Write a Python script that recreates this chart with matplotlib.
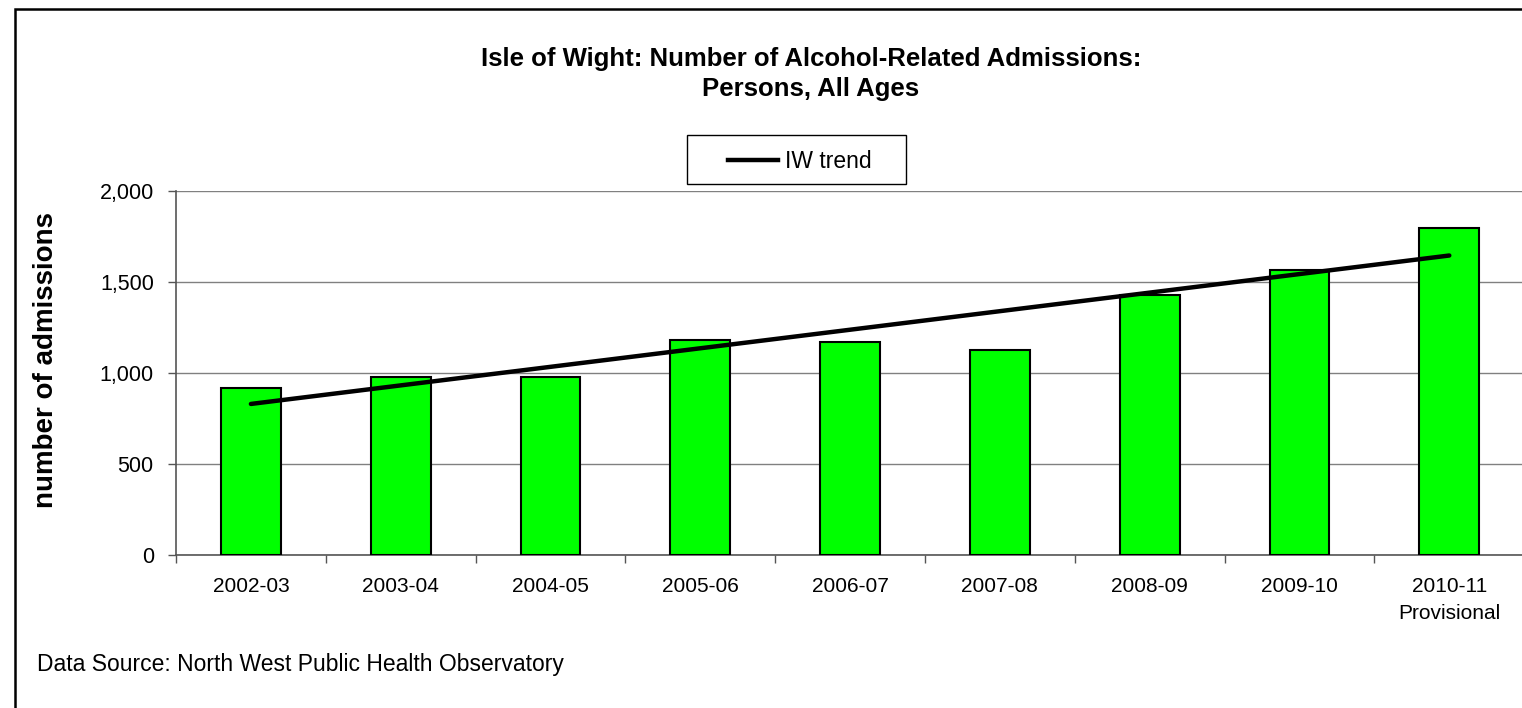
import numpy as np
import matplotlib
matplotlib.use("Agg")
import matplotlib.pyplot as plt
from matplotlib.lines import Line2D
from matplotlib.patches import Rectangle

plt.rcParams['font.family'] = ['Liberation Sans', 'DejaVu Sans']

categories = ["2002-03", "2003-04", "2004-05", "2005-06", "2006-07",
              "2007-08", "2008-09", "2009-10", "2010-11\nProvisional"]
admissions = [917, 980, 977, 1181, 1170, 1126, 1428, 1566, 1795]
y_ticks = [0, 500, 1000, 1500, 2000]

W, H = 1522, 708
fig = plt.figure(figsize=(W / 100, H / 100), dpi=100)


def fx(px):
    return px / W


def fy(py):
    return 1 - py / H


# outer chart border (right/bottom edges fall outside the canvas)
fig.patches.append(Rectangle((fx(15.5), -0.1), 1.2, fy(8.5) + 0.1,
                             transform=fig.transFigure, fill=False,
                             edgecolor='black', linewidth=1.8, zorder=0))

left, bottom, top = 176, 555, 191
right = 176 + 9 * 149.8
ax = fig.add_axes([fx(left), fy(bottom), fx(right - left), (bottom - top) / H])

x = np.arange(len(categories))
ax.bar(x, admissions, width=0.4, color='#00FF00', edgecolor='black',
       linewidth=1.5, zorder=3)

# linear trend over the series
slope, intercept = np.polyfit(x, admissions, 1)
trend_color, trend_lw = 'black', 3.2
ax.plot(x, intercept + slope * x, color=trend_color, linewidth=trend_lw,
        solid_capstyle='round', zorder=4)

ax.set_xlim(-0.5, len(categories) - 0.5)
ax.set_ylim(0, 2000)
ax.set_yticks(y_ticks)
ax.set_yticklabels([f"{v:,}" for v in y_ticks])
ax.yaxis.grid(True, color='#808080', linewidth=1.0, zorder=0)
ax.set_axisbelow(True)

ax.set_xticks(x)
ax.set_xticklabels(categories, fontsize=15, linespacing=1.55)
ax.set_xticks(np.arange(len(categories) + 1) - 0.5, minor=True)
ax.tick_params(axis='x', which='major', length=0, pad=15.5)
ax.tick_params(axis='x', which='minor', length=6, width=1.0, color='#555555', direction='out')
ax.tick_params(axis='y', length=6, width=1.0, color='#555555', direction='out',
               labelsize=15.5, pad=10)

for s in ['top', 'right']:
    ax.spines[s].set_visible(False)
for s in ['left', 'bottom']:
    ax.spines[s].set_color('#555555')
    ax.spines[s].set_linewidth(1.2)

fig.text(fx(46), fy(360), "number of admissions", rotation=90, fontsize=20,
         fontweight='bold', ha='center', va='center')

fig.text(fx(811), fy(74), "Isle of Wight: Number of Alcohol-Related Admissions:\nPersons, All Ages",
         ha='center', va='center', fontsize=18.5, fontweight='bold', linespacing=1.35)

# legend box for the trend line
fig.patches.append(Rectangle((fx(687), fy(184)), fx(906 - 687), (184 - 135) / H,
                             transform=fig.transFigure, facecolor='white',
                             edgecolor='black', linewidth=1.0, zorder=5))
fig.lines.append(Line2D([fx(728), fx(778)], [fy(160), fy(160)], transform=fig.transFigure,
                        color=trend_color, linewidth=trend_lw, zorder=6))
fig.text(fx(785), fy(161), "IW trend", ha='left', va='center', fontsize=16.5, zorder=6)

fig.text(fx(37), fy(665), "Data Source: North West Public Health Observatory",
         ha='left', va='center', fontsize=16.5)

fig.savefig("out.png", dpi=100)
